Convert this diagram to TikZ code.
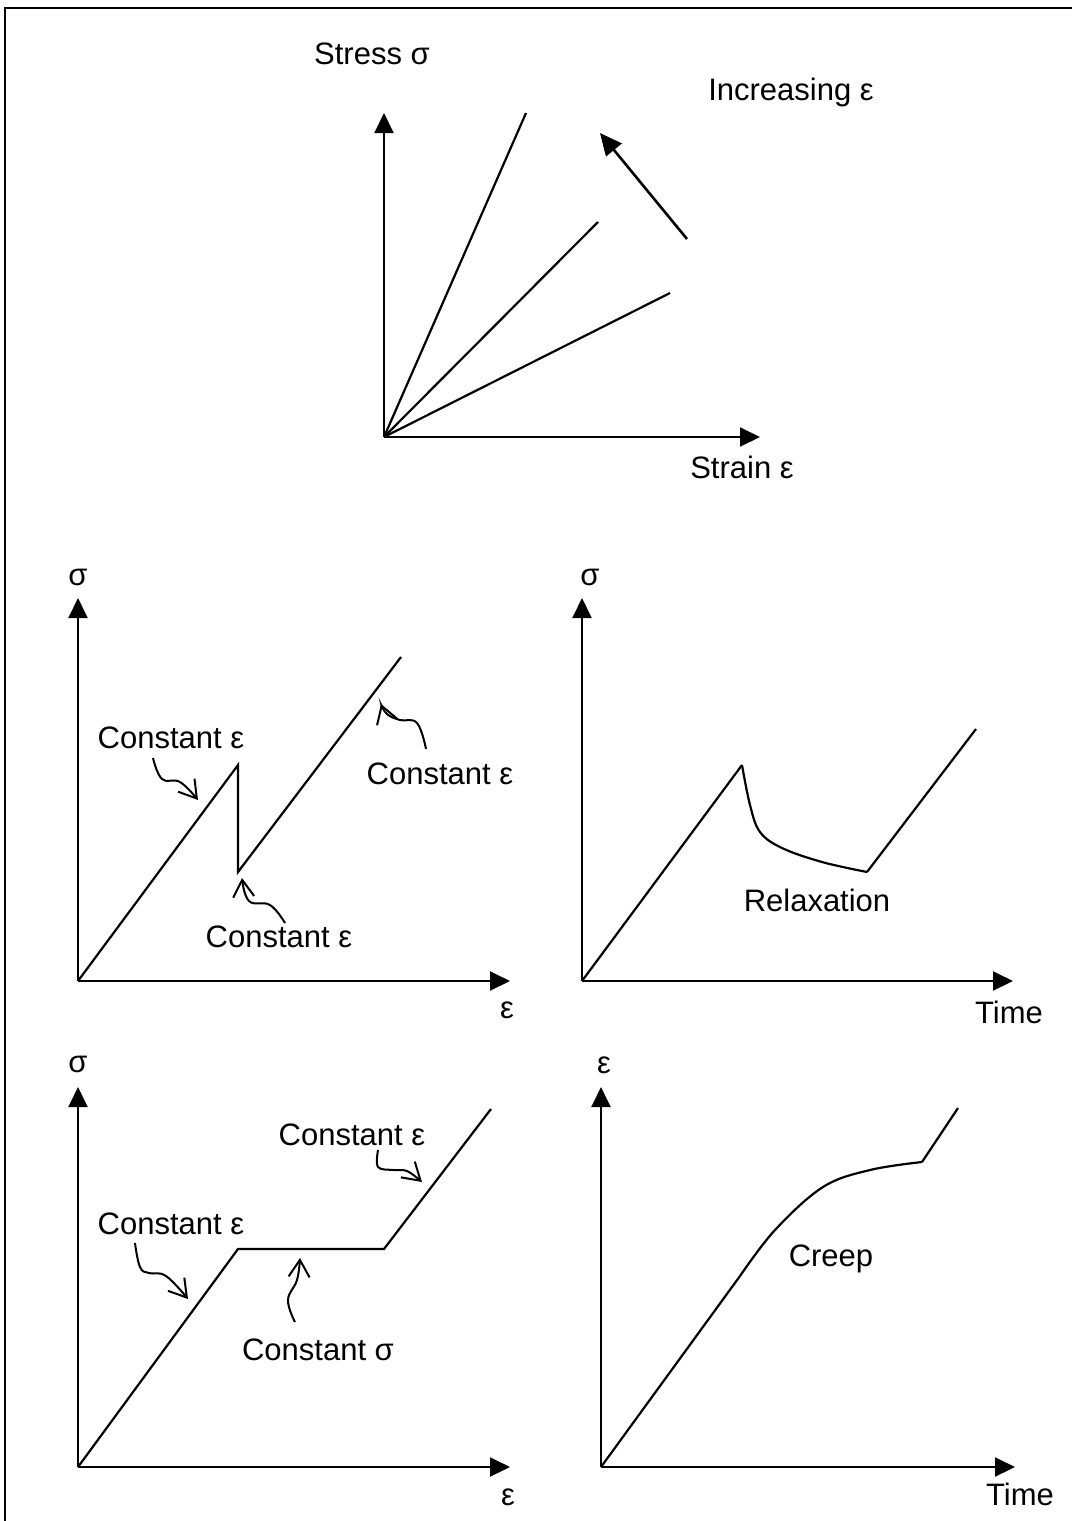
\documentclass[tikz,border=0pt]{standalone}
\usepackage{fontspec}
\setmainfont{Liberation Sans}
\usetikzlibrary{arrows.meta}
\begin{document}
\begin{tikzpicture}[x=1pt,y=-1pt,
  axis/.style={line width=2pt,-{Triangle[length=20pt,width=19pt]}},
  curve/.style={line width=2.2pt,line join=miter},
  wavy/.style={line width=2pt,-{Straight Barb[length=17pt,width=21pt,line width=2pt]}},
  lbl/.style={font=\fontsize{31}{36}\selectfont,inner sep=0pt}]
\useasboundingbox (0,0) rectangle (1072,1521);
% frame
\draw[line width=1.8pt] (5,1521) -- (5,8) -- (1072,8);

% ---------- top graph ----------
\coordinate (O1) at (384,437);
\coordinate (Y1) at (384,113);
\coordinate (X1) at (760,437);
\draw[axis] (O1) -- (Y1);
\draw[axis] (O1) -- (X1);
\coordinate (L1) at (526,113);
\coordinate (L2) at (598,222);
\coordinate (L3) at (670,293);
\draw[curve] (O1) -- (L1);
\draw[curve] (O1) -- (L2);
\draw[curve] (O1) -- (L3);
\coordinate (A1s) at (687,239);
\coordinate (A1e) at (600,133);
\draw[line width=2.6pt,-{Triangle[length=22pt,width=20pt]}] (A1s) -- (A1e);
\node[lbl] (stress) at (372,54) {Stress σ};
\node[lbl] (incr) at (791,92) {Increasing ε};
\node[lbl] (strain) at (742,467) {Strain ε};

% ---------- middle left ----------
\coordinate (O2) at (78,981);
\coordinate (Y2) at (78,598);
\coordinate (X2) at (510,981);
\draw[axis] (O2) -- (Y2);
\draw[axis] (O2) -- (X2);
\node[lbl] (s2) at (78,577) {σ};
\node[lbl] (e2) at (507,1010) {ε};
\draw[curve] (O2) -- (238,765) -- (238,872) -- (401,657);
\node[lbl] (c2a) at (171,738) {Constant ε};
\node[lbl] (c2b) at (440,774) {Constant ε};
\node[lbl] (c2c) at (279,937) {Constant ε};
\draw[wavy] plot[smooth,tension=0.7] coordinates {(153,758) (162,779) (180,782) (198,800)};
\draw[wavy] plot[smooth,tension=0.7] coordinates {(426,749) (417,723) (400,720) (387,714) (381,704)};
\draw[wavy] plot[smooth,tension=0.7] coordinates {(285,923) (270,905) (249,901) (242,878)};

% ---------- middle right ----------
\coordinate (O3) at (582,981);
\coordinate (Y3) at (582,598);
\coordinate (X3) at (1013,981);
\draw[axis] (O3) -- (Y3);
\draw[axis] (O3) -- (X3);
\node[lbl] (s3) at (590,577) {σ};
\node[lbl] (t3) at (1009,1012) {Time};
\draw[curve] (O3) -- (742,765);
\draw[curve] plot[smooth,tension=0.6] coordinates {(742,765) (750,805) (760,832) (782,848) (822,862) (867,872)};
\draw[curve] (867,872) -- (976,729);
\node[lbl] (rel) at (817,900) {Relaxation};

% ---------- bottom left ----------
\coordinate (O4) at (78,1467);
\coordinate (Y4) at (78,1087);
\coordinate (X4) at (510,1467);
\draw[axis] (O4) -- (Y4);
\draw[axis] (O4) -- (X4);
\node[lbl] (s4) at (78,1064) {σ};
\node[lbl] (e4) at (508,1497) {ε};
\draw[curve] (O4) -- (238,1249) -- (384,1249) -- (491,1109);
\node[lbl] (c4a) at (171,1224) {Constant ε};
\node[lbl] (c4b) at (352,1135) {Constant ε};
\node[lbl] (c4c) at (318,1350) {Constant σ};
\draw[wavy] plot[smooth,tension=0.7] coordinates {(135,1243) (140,1267) (149,1273) (166,1276) (188,1299)};
\draw[wavy] plot[smooth,tension=0.6] coordinates {(378,1150) (378,1167) (393,1170) (407,1171) (422,1182)};
\draw[wavy] plot[smooth,tension=0.7] coordinates {(295,1322) (288,1300) (297,1280) (300,1258)};

% ---------- bottom right ----------
\coordinate (O5) at (601,1467);
\coordinate (Y5) at (601,1087);
\coordinate (X5) at (1015,1467);
\draw[axis] (O5) -- (Y5);
\draw[axis] (O5) -- (X5);
\node[lbl] (e5) at (604,1065) {ε};
\node[lbl] (t5) at (1020,1494) {Time};
\draw[curve] (O5) -- (740,1276);
\draw[curve] plot[smooth,tension=0.6] coordinates {(740,1276) (775,1230) (823,1187) (870,1170) (922,1162)};
\draw[curve] (922,1162) -- (958,1108);
\node[lbl] (creep) at (831,1259) {Creep};
\end{tikzpicture}
\end{document}
